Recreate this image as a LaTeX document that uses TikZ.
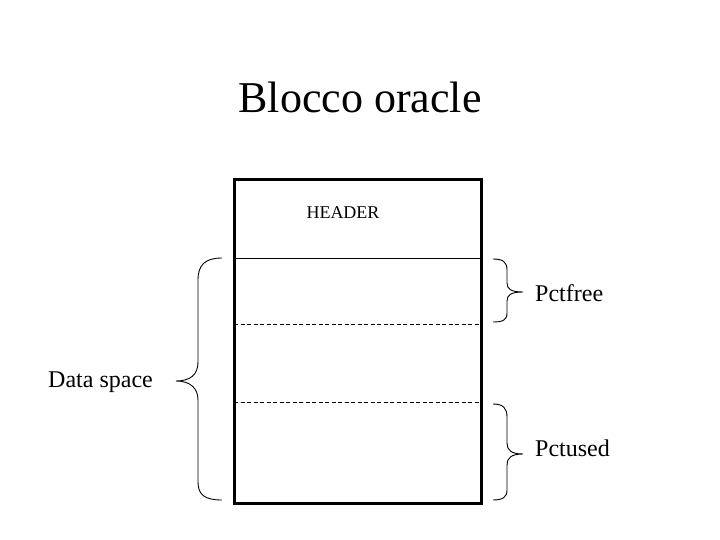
\documentclass[tikz,border=0pt]{standalone}
\usepackage{fontspec}
\setmainfont{Liberation Serif}
\begin{document}
\begin{tikzpicture}[x=1pt,y=-1pt,
  lbl/.style={inner sep=0pt,font=\fontsize{24}{28}\selectfont},
  brace/.style={line width=0.9pt},
  sep/.style={line width=0.9pt}]
\useasboundingbox (0,0) rectangle (720,540);
\node[inner sep=0pt,font=\fontsize{44}{50}\selectfont] (title) at (360,97) {Blocco oracle};
\node[draw,line width=3pt,minimum width=247pt,minimum height=323pt,inner sep=0pt] (block) at (357.5,341.5) {};
\node[inner sep=0pt,font=\fontsize{18}{21}\selectfont] (header) at (343,213) {HEADER};
\coordinate (h1) at (234,258); \coordinate (h2) at (480,258);
\coordinate (d1) at (234,324); \coordinate (d2) at (480,324);
\coordinate (e1) at (234,402); \coordinate (e2) at (480,402);
\draw[sep] (h1) -- (h2);
\draw[sep,dashed,dash pattern=on 4pt off 2.5pt] (d1) -- (d2);
\draw[sep,dashed,dash pattern=on 4pt off 2.5pt] (e1) -- (e2);
% left brace
\draw[brace] (222,258) .. controls (205,258) and (198,265) .. (198,280) -- (198,362)
  .. controls (198,375) and (190,381) .. (176,381)
  .. controls (190,381) and (198,388) .. (198,400) -- (198,482)
  .. controls (198,495) and (205,500) .. (222,500);
\node[lbl,anchor=east] (ds) at (153,382) {Data space};
% Pctfree brace
\draw[brace] (493,259) .. controls (503,259) and (507,262) .. (507,270) -- (507,283)
  .. controls (507,289) and (511,292) .. (523,292)
  .. controls (511,292) and (507,295) .. (507,301) -- (507,313)
  .. controls (507,320) and (503,322) .. (493,322);
\node[lbl,anchor=west] (pf) at (535,293) {Pctfree};
% Pctused brace
\draw[brace] (493,404) .. controls (503,404) and (507,408) .. (507,417) -- (507,443)
  .. controls (507,450) and (511,454) .. (523,454)
  .. controls (511,454) and (507,458) .. (507,465) -- (507,490)
  .. controls (507,497) and (503,500) .. (493,500);
\node[lbl,anchor=west] (pu) at (535,448) {Pctused};
\end{tikzpicture}
\end{document}
